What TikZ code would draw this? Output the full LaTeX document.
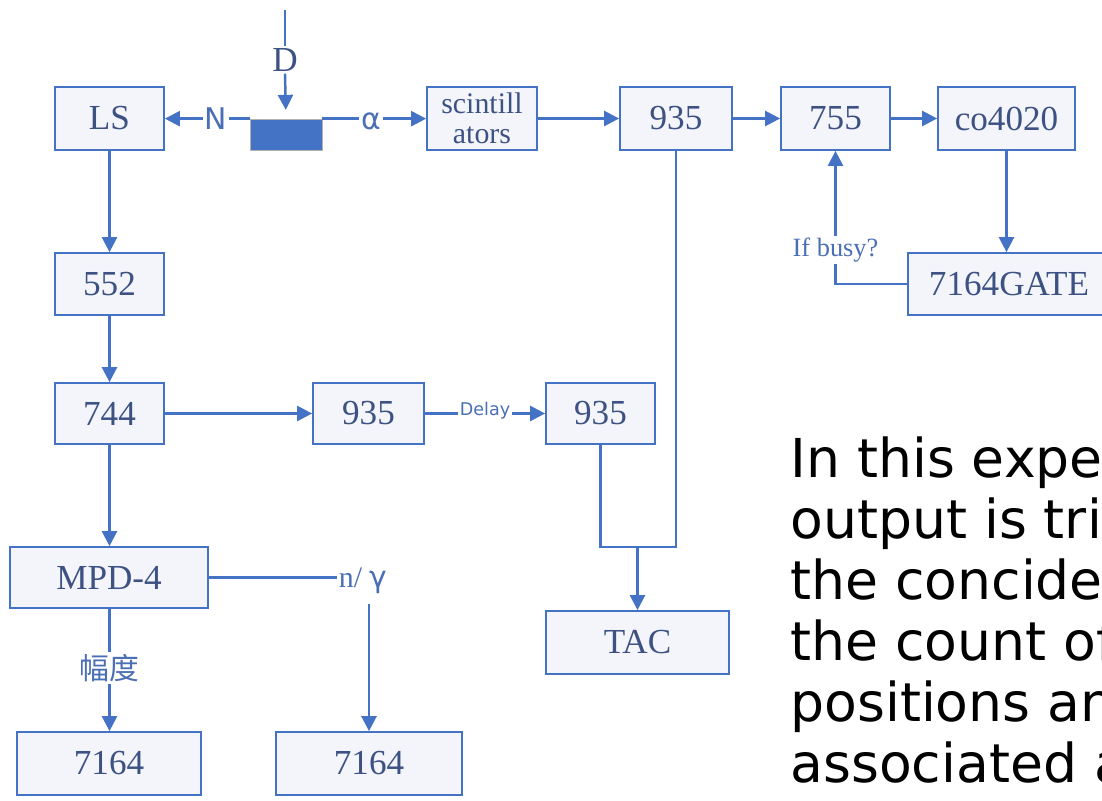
\documentclass[tikz,border=0pt]{standalone}
\usepackage{fontspec}
\setmainfont{Liberation Serif}
\newfontfamily\labelsans{DejaVu Sans}
\newfontfamily\notefont{DejaVu Sans}
\newfontfamily\cjk{Noto Sans CJK SC}
\usetikzlibrary{arrows.meta,positioning,calc}
\definecolor{flowblue}{HTML}{4472C4}
\definecolor{boxtext}{HTML}{3D5283}
\definecolor{boxfill}{HTML}{F3F5FB}
\definecolor{lblblue}{HTML}{4A6FB5}

\begin{document}
\begin{tikzpicture}[
    x=0.02cm, y=-0.02cm,
    >={Triangle[length=3mm, width=3mm]},
    box/.style={draw=flowblue, line width=1pt, fill=boxfill, text=boxtext,
                font=\fontsize{20}{22}\selectfont, inner sep=0pt,
                minimum height=1.26cm},
    wire/.style={flowblue, line width=1.4pt},
    lbl/.style={text=lblblue, inner sep=1pt},
    note/.style={font=\notefont\fontsize{30.5}{32}\selectfont, anchor=base west,
                 inner sep=0pt},
]
\useasboundingbox (0,0) rectangle (1102,801);
\clip (0,0) rectangle (1102,801);

% =====================================================================
% top row: source, detectors, gate logic
% =====================================================================
\node[draw=gray!60, fill=flowblue, minimum width=1.44cm, minimum height=0.62cm,
      inner sep=0pt] (src) at (286,134.5) {};
\coordinate (dtop) at (285,10);
\node[lbl, text=boxtext, font=\fontsize{20}{22}\selectfont] (dlab) at (285,60) {D};
\node[lbl, font=\labelsans\fontsize{17}{18}\selectfont] (nlab) at (216,118.5) {N};
\node[lbl, font=\labelsans\fontsize{17}{18}\selectfont] (alab) at (371,121) {α};

\node[box, minimum width=2.18cm] (ls) at (109.5,118.5) {LS};
\node[box, minimum width=2.2cm, align=center, font=\fontsize{17}{17}\selectfont]
    (scint) at (482,118.5) {scintill\\ators};
\node[box, minimum width=2.24cm] (t935) at (676,118.5) {935};
\node[box, minimum width=2.18cm] (u755) at (835.5,118.5) {755};
\node[box, minimum width=2.74cm] (co) at (1006.5,118.5) {co4020};
\node[box, minimum width=4.04cm, minimum height=1.24cm] (gate) at (1009,284) {7164GATE};
\node[lbl, font=\fontsize{15}{16}\selectfont] (busy) at (835.5,250) {If busy?};

\draw[wire] (dtop) -- (dlab.north);
\draw[wire,->,shorten >=5pt] (dlab.south) -- (src.north);
\draw[wire] (src.north west) -- (src.north west -| nlab.east);
\draw[wire,->] (nlab.west |- src.north west) -- (src.north west -| ls.east);
\draw[wire] (src.north east) -- (src.north east -| alab.west);
\draw[wire,->] (alab.east |- src.north east) -- (src.north east -| scint.west);
\draw[wire,->] (scint.east) -- (t935.west);
\draw[wire,->] (t935.east) -- (u755.west);
\draw[wire,->] (u755.east) -- (co.west);
\draw[wire,->] (co.south) -- (co.south |- gate.north);
\draw[wire] (gate.west) -| (busy.south);
\draw[wire,->] (busy.north) -- (u755.south);

% =====================================================================
% left chain: LS -> 552 -> 744 -> MPD-4 -> 7164
% =====================================================================
\node[box, minimum width=2.18cm, minimum height=1.24cm] (a552) at (109.5,284) {552};
\node[box, minimum width=2.18cm, minimum height=1.22cm] (a744) at (109.5,413.5) {744};
\node[box, minimum width=2.22cm, minimum height=1.22cm] (m935) at (368.5,413.5) {935};
\node[box, minimum width=2.18cm, minimum height=1.22cm] (d935) at (600.5,413.5) {935};
\node[lbl, font=\labelsans\fontsize{10}{11}\selectfont] (delay) at (485,411) {Delay};
\node[box, minimum width=3.96cm, minimum height=1.22cm] (mpd) at (109,577.5) {MPD-4};
\node[box, minimum width=3.66cm] (tac) at (637.5,642.5) {TAC};
\node[box, minimum width=3.68cm] (l7164) at (109,763.5) {7164};
\node[box, minimum width=3.72cm] (r7164) at (369,763.5) {7164};
\node[lbl, font=\fontsize{17}{18}\selectfont] (ngam) at (363,581) {n/ {\labelsans γ}};
\node[lbl, font=\cjk\fontsize{17}{18}\selectfont] (amp) at (109.5,668) {幅度};
\coordinate (join) at (637.5,547);

\draw[wire,->] (ls.south) -- (a552.north);
\draw[wire,->] (a552.south) -- (a744.north);
\draw[wire,->] (a744.south) -- (mpd.north -| a744.south);
\draw[wire,->] (a744.east) -- (m935.west);
\draw[wire] (m935.east) -- (m935.east -| delay.west);
\draw[wire,->] (delay.east |- d935.west) -- (d935.west);
\draw[wire] (d935.south) |- (join);
\draw[wire] (t935.south) |- (join);
\draw[wire,->] (join) -- (tac.north);
\draw[wire] (mpd.east) -- (mpd.east -| ngam.west);
\draw[wire,->] ($(r7164.north |- ngam.south)+(0,8)$) -- (r7164.north);
\draw[wire] (mpd.south -| a744.south) -- (amp.north);
\draw[wire,->] (amp.south) -- (l7164.north -| amp.south);

% =====================================================================
% side note (runs off the right edge)
% =====================================================================
\foreach \ln [count=\i from 0] in {In this experiment,output is triggered by,the concidence of,the count of,positions and,associated and} {
    \node[note] (note\i) at (790,477+61*\i) {\ln};
}
\end{tikzpicture}
\end{document}
